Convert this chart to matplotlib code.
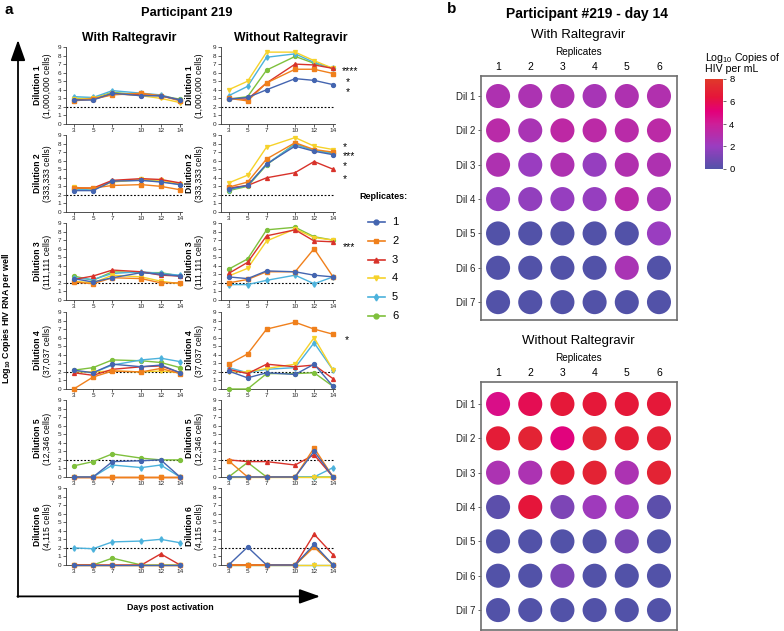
import numpy as np
import matplotlib
matplotlib.use('Agg')
import matplotlib.pyplot as plt
from matplotlib.colors import LinearSegmentedColormap, Normalize
import matplotlib.cm as cm

plt.rcParams['font.family'] = ['Liberation Sans', 'DejaVu Sans']
plt.rcParams['mathtext.fontset'] = 'custom'
plt.rcParams['mathtext.rm'] = 'Liberation Sans'
plt.rcParams['mathtext.bf'] = 'Liberation Sans:bold'
plt.rcParams['mathtext.it'] = 'Liberation Sans:italic'

# ---------------- data ----------------
days = [3, 5, 7, 10, 12, 14]
replicates = ['1', '2', '3', '4', '5', '6']
dilution_names = ['Dilution 1', 'Dilution 2', 'Dilution 3', 'Dilution 4', 'Dilution 5', 'Dilution 6']
cell_counts = ['(1,000,000 cells)', '(333,333 cells)', '(111,111 cells)',
               '(37,037 cells)', '(12,346 cells)', '(4,115 cells)']
heat_rows = ['Dil 1', 'Dil 2', 'Dil 3', 'Dil 4', 'Dil 5', 'Dil 6', 'Dil 7']

# With Raltegravir: one list per replicate (1..6), values at days 3,5,7,10,12,14
with_dil1 = [[2.8, 2.8, 3.6, 3.3, 3.3, 2.8], [2.7, 2.9, 3.4, 3.6, 3.3, 2.7],
             [2.8, 2.9, 3.5, 3.4, 3.3, 2.8], [2.9, 3.0, 3.6, 3.3, 3.0, 2.5],
             [3.2, 3.1, 3.9, 3.6, 3.4, 2.8], [3.0, 3.0, 3.7, 3.4, 3.3, 2.9]]
with_dil2 = [[2.5, 2.5, 3.6, 3.7, 3.5, 3.2], [2.8, 2.8, 3.1, 3.2, 3.0, 2.6],
             [2.8, 2.8, 3.7, 3.9, 3.8, 3.4], [2.9, 2.7, 3.5, 3.8, 3.7, 3.3],
             [2.6, 2.6, 3.6, 3.7, 3.6, 3.2], [2.7, 2.7, 3.6, 3.8, 3.7, 3.3]]
with_dil3 = [[2.5, 2.1, 2.6, 3.2, 3.0, 2.8], [2.1, 1.9, 2.6, 2.5, 2.0, 2.0],
             [2.4, 2.8, 3.5, 3.3, 2.9, 2.8], [2.2, 2.0, 2.9, 2.7, 2.2, 1.9],
             [2.6, 2.4, 3.1, 3.3, 3.1, 2.9], [2.8, 2.3, 3.3, 3.2, 3.2, 2.8]]
with_dil4 = [[2.2, 1.9, 2.9, 2.6, 2.8, 1.9], [0.0, 1.4, 2.1, 2.0, 2.4, 1.8],
             [1.9, 1.6, 2.3, 2.6, 2.7, 1.9], [2.0, 2.0, 2.1, 2.0, 2.1, 1.9],
             [2.1, 1.9, 2.8, 3.4, 3.6, 3.2], [2.2, 2.5, 3.4, 3.3, 3.1, 2.5]]
with_dil5 = [[0.0, 0.0, 1.8, 1.9, 2.0, 0.0], [0.0, 0.0, 0.0, 0.0, 0.0, 0.0],
             [0.0, 0.0, 0.0, 0.0, 0.0, 0.0], [0.0, 0.0, 0.0, 0.0, 0.0, 0.0],
             [0.0, 0.0, 1.4, 1.1, 1.4, 0.0], [1.3, 1.8, 2.7, 2.2, 2.0, 2.0]]
with_dil6 = [[0.0, 0.0, 0.0, 0.0, 0.0, 0.0], [0.0, 0.0, 0.0, 0.0, 0.0, 0.0],
             [0.0, 0.0, 0.0, 0.0, 1.3, 0.0], [0.0, 0.0, 0.0, 0.0, 0.0, 0.0],
             [2.0, 1.9, 2.7, 2.8, 3.0, 2.6], [0.0, 0.0, 0.8, 0.0, 0.0, 0.0]]

# Without Raltegravir
without_dil1 = [[2.9, 3.1, 4.0, 5.3, 5.1, 4.6], [3.0, 2.7, 4.8, 6.4, 6.4, 5.9],
                [3.0, 2.9, 4.8, 7.0, 6.9, 6.5], [4.0, 5.0, 8.4, 8.4, 7.4, 6.5],
                [3.3, 4.4, 7.8, 8.2, 7.2, 6.5], [2.9, 3.2, 6.3, 7.9, 7.1, 6.5]]
without_dil2 = [[2.7, 3.1, 5.6, 7.7, 7.1, 6.7], [2.9, 3.5, 6.2, 8.1, 7.3, 7.0],
                [2.8, 3.1, 4.0, 4.6, 5.9, 5.0], [3.4, 4.3, 7.6, 8.7, 7.7, 7.3],
                [2.6, 3.1, 5.6, 7.9, 7.2, 6.8], [2.5, 3.0, 5.5, 8.0, 7.2, 6.9]]
without_dil3 = [[2.7, 2.5, 3.4, 3.3, 2.9, 2.7], [2.0, 2.4, 3.3, 3.3, 6.0, 2.7],
                [3.1, 4.4, 7.5, 8.2, 6.9, 6.8], [2.8, 3.7, 6.9, 8.3, 7.3, 7.0],
                [1.8, 1.8, 2.3, 2.9, 1.9, 2.7], [3.6, 4.8, 8.2, 8.5, 7.4, 7.0]]
without_dil4 = [[2.1, 1.3, 1.9, 1.7, 2.9, 0.3], [2.9, 4.1, 7.0, 7.8, 7.0, 6.4],
                [2.3, 1.8, 2.9, 2.6, 2.8, 1.2], [2.0, 2.0, 2.4, 2.9, 6.0, 2.2],
                [2.5, 1.9, 2.3, 2.5, 5.4, 2.2], [0.0, 0.0, 1.8, 1.8, 1.9, 0.3]]
without_dil5 = [[0.0, 0.0, 0.0, 0.0, 3.0, 0.0], [1.9, 0.0, 0.0, 0.0, 3.4, 0.0],
                [2.0, 1.8, 1.8, 1.4, 2.6, 0.0], [0.0, 0.0, 0.0, 0.0, 0.0, 0.0],
                [0.0, 0.0, 0.0, 0.0, 0.0, 1.1], [0.0, 1.7, 0.0, 0.0, 0.0, 0.0]]
without_dil6 = [[0.0, 2.1, 0.0, 0.0, 2.4, 0.0], [0.0, 0.0, 0.0, 0.0, 2.1, 0.0],
                [0.0, 0.0, 0.0, 0.0, 3.6, 1.2], [0.0, 0.0, 0.0, 0.0, 0.0, 0.0],
                [0.0, 0.0, 0.0, 0.0, 0.0, 0.0], [0.0, 0.0, 0.0, 0.0, 2.2, 0.0]]

with_all = [with_dil1, with_dil2, with_dil3, with_dil4, with_dil5, with_dil6]
without_all = [without_dil1, without_dil2, without_dil3, without_dil4, without_dil5, without_dil6]

# Dilution 7 day-14 values (heatmap only)
with_dil7_day14 = [0.0, 0.0, 0.0, 0.0, 0.0, 0.0]
without_dil7_day14 = [0.0, 0.0, 0.0, 0.0, 0.0, 0.0]

detection_limit = 2.0

# significance labels (Without Raltegravir), per dilution row
signif_marks = {0: ['****', '*', '*'], 1: ['*', '***', '*', '*'], 2: ['***'], 3: ['*']}

# ---------------- style ----------------
rep_colors = ['#4465b0', '#f0801c', '#d8322a', '#f6d22a', '#4cb2dc', '#7fc03c']
rep_markers = ['o', 's', '^', 'v', 'd', 'o']

W, H = 784, 631
fig = plt.figure(figsize=(W / 100, H / 100), dpi=100)


def px_axes(left, top, width, height):
    return fig.add_axes([left / W, 1 - (top + height) / H, width / W, height / H])


def ftext(x, y, s, **kw):
    fig.text(x / W, 1 - y / H, s, **kw)


row_tops = [47, 135, 223, 312, 400, 488]
row_h = 77
col_lefts = [66, 221]
col_w = [116, 114]

for c, data_all in enumerate([with_all, without_all]):
    for r in range(6):
        ax = px_axes(col_lefts[c], row_tops[r], col_w[c], row_h)
        data = data_all[r]
        for i in reversed(range(6)):
            ax.plot(days, data[i], color=rep_colors[i], marker=rep_markers[i],
                    markersize=2.8, lw=1.0, clip_on=False, zorder=3 + (6 - i) * 0.1)
        ax.plot([2.2, 14.2], [detection_limit, detection_limit], ls=(0, (1.6, 1.6)),
                color='black', lw=0.8, zorder=2)
        ax.set_xlim(2.2, 14.2)
        ax.set_ylim(0, 9)
        ax.set_xticks(days)
        ax.set_yticks(range(10))
        ax.tick_params(labelsize=4.6, length=2, width=0.5, pad=1.2, colors='#222222')
        for s in ['top', 'right']:
            ax.spines[s].set_visible(False)
        for s in ['left', 'bottom']:
            ax.spines[s].set_linewidth(0.6)
            ax.spines[s].set_color('#333333')
        ax.patch.set_alpha(0)
        yc = row_tops[r] + row_h / 2
        xl = [38, 190][c]
        ftext(xl, yc, dilution_names[r], rotation=90, ha='center', va='center',
              fontsize=6.2, fontweight='bold')
        ftext(xl + 9.5, yc, cell_counts[r], rotation=90, ha='center', va='center', fontsize=6.2)

# significance asterisks
sig_pos = {0: [(342, 71), (346, 82), (346, 92)],
           1: [(343, 147), (343, 156), (343, 166), (343, 179)],
           2: [(343, 247)], 3: [(345, 340)]}
for r, marks in signif_marks.items():
    for m, (x, y) in zip(marks, sig_pos[r]):
        ftext(x, y, m, ha='left', va='center', fontsize=7.5)

# titles panel a
ftext(9, 10, 'a', ha='center', va='center', fontsize=11, fontweight='bold')
ftext(187, 13, 'Participant 219', ha='center', va='center', fontsize=9.3, fontweight='bold')
ftext(129, 38, 'With Raltegravir', ha='center', va='center', fontsize=8.8, fontweight='bold')
ftext(291, 38, 'Without Raltegravir', ha='center', va='center', fontsize=8.8, fontweight='bold')
ftext(170, 607, 'Days post activation', ha='center', va='center', fontsize=6.4, fontweight='bold')
ftext(7, 318, r'Log$_{\mathregular{10}}$ Copies HIV RNA per well', rotation=90, ha='center',
      va='center', fontsize=6.4, fontweight='bold')

# overlay for arrows and legend
ov = fig.add_axes([0, 0, 1, 1])
ov.set_xlim(0, W)
ov.set_ylim(H, 0)
ov.axis('off')
arrow_style = '-|>,head_length=0.9,head_width=0.32'
ov.annotate('', xy=(18, 40), xytext=(18, 597),
            arrowprops=dict(arrowstyle=arrow_style, lw=1.3, color='black',
                            mutation_scale=14, shrinkA=0, shrinkB=0))
ov.annotate('', xy=(320, 596.4), xytext=(17.4, 596.4),
            arrowprops=dict(arrowstyle=arrow_style, lw=1.3, color='black',
                            mutation_scale=14, shrinkA=0, shrinkB=0))

ftext(359, 196, 'Replicates:', ha='left', va='center', fontsize=6.5, fontweight='bold')
leg_y0, leg_dy = 222, 18.8
for i in range(6):
    y = leg_y0 + i * leg_dy
    ov.plot([368, 385], [y, y], color=rep_colors[i], lw=1.2)
    ov.plot([376.5], [y], color=rep_colors[i], marker=rep_markers[i], markersize=3.5)
    ov.text(392, y, replicates[i], ha='left', va='center', fontsize=8)

# ---------------- panel b ----------------
cmap = LinearSegmentedColormap.from_list('hiv', [
    (0.0, '#5252a8'), (0.25, '#9a3dc0'), (0.5, '#cd1f98'),
    (0.64, '#e3007a'), (0.8, '#e5153a'), (1.0, '#e0392a')])
norm = Normalize(0, 8)

with_heat = [[with_all[r][i][-1] for i in range(6)] for r in range(6)] + [with_dil7_day14]
without_heat = [[without_all[r][i][-1] for i in range(6)] for r in range(6)] + [without_dil7_day14]

ftext(452, 9, 'b', ha='center', va='center', fontsize=11, fontweight='bold')
ftext(587, 14, 'Participant #219 - day 14', ha='center', va='center', fontsize=10, fontweight='bold')

heat_specs = [(with_heat, 76, 244, 'With Raltegravir', 35, 52, (7.52, 0.417)),
              (without_heat, 382, 248, 'Without Raltegravir', 341, 358, (7.58, 0.36))]
for heat, top, hgt, title, ty, ry, ylim in heat_specs:
    ax = px_axes(481, top, 196, hgt)
    xs, ys, vs = [], [], []
    for r in range(7):
        for c in range(6):
            xs.append(c + 1)
            ys.append(r + 1)
            vs.append(heat[r][c])
    ax.scatter(xs, ys, c=vs, cmap=cmap, norm=norm, s=300, linewidths=0)
    ax.set_xlim(0.47, 6.56)
    ax.set_ylim(*ylim)
    ax.xaxis.tick_top()
    ax.set_xticks(range(1, 7))
    ax.set_xticklabels(replicates)
    ax.set_yticks(range(1, 8))
    ax.set_yticklabels(heat_rows)
    ax.tick_params(axis='x', length=0, pad=3, labelsize=7.5)
    ax.tick_params(axis='y', length=2, width=0.5, pad=2, labelsize=7, colors='#222222')
    for s in ax.spines.values():
        s.set_linewidth(1.2)
        s.set_color('#6e6e6e')
    ftext(578, ty, title, ha='center', va='center', fontsize=9.5)
    ftext(578, ry, 'Replicates', ha='center', va='center', fontsize=7.2)

cax = px_axes(705, 79, 18, 90)
cb = fig.colorbar(cm.ScalarMappable(norm=norm, cmap=cmap), cax=cax, ticks=[0, 2, 4, 6, 8])
cb.outline.set_visible(False)
cax.tick_params(labelsize=6.8, length=2.5, width=0.6, pad=2, color='#555555')
ftext(705, 58, r'Log$_{\mathregular{10}}$ Copies of', ha='left', va='center', fontsize=7.6)
ftext(705, 69, 'HIV per mL', ha='left', va='center', fontsize=7.6)

fig.savefig('out.png', dpi=100)
